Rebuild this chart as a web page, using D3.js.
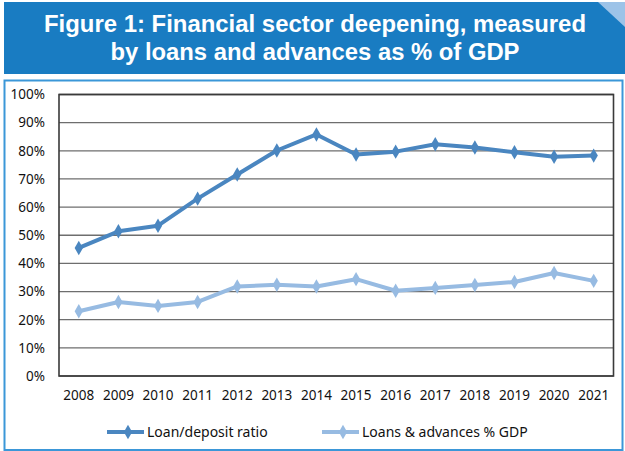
<!DOCTYPE html>
<html>
<head>
<meta charset="utf-8">
<script src="https://cdn.jsdelivr.net/npm/d3@7"></script>
<style>
  html, body { margin: 0; padding: 0; background: #ffffff; }
  svg { display: block; }
</style>
</head>
<body>
<svg id="chart" width="625" height="451"></svg>
<script>
// Chart data
const years = ["2008","2009","2010","2011","2012","2013","2014","2015","2016","2017","2018","2019","2020","2021"];
const loanDepositRatio = [45.5, 51.4, 53.4, 63.0, 71.6, 80.1, 85.8, 78.7, 79.7, 82.3, 81.2, 79.5, 77.9, 78.3];
const loansAdvancesGdp = [23.0, 26.3, 24.9, 26.3, 31.8, 32.4, 31.8, 34.4, 30.3, 31.3, 32.3, 33.4, 36.6, 33.8];
const yTicks = [0, 10, 20, 30, 40, 50, 60, 70, 80, 90, 100];
const seriesNames = ["Loan/deposit ratio", "Loans & advances % GDP"];
const titleLines = ["Figure 1: Financial sector deepening, measured", "by loans and advances as % of GDP"];

const colors = ["#4a86c0", "#97bbe2"];
const svg = d3.select("#chart");
const W = 625, H = 451;

// Title banner
svg.append("rect").attr("x", 4).attr("y", 2).attr("width", W - 4).attr("height", 72).attr("fill", "#197cc2");
svg.append("path").attr("d", "M598,2 L625,2 L625,27 Z").attr("fill", "#9cc3e8");
const titleWidths = [542, 409];
titleLines.forEach((t, i) => {
  svg.append("text")
    .attr("x", 315).attr("y", 32 + i * 28)
    .attr("text-anchor", "middle")
    .attr("font-family", "'Liberation Sans', Arial, sans-serif")
    .attr("font-weight", "bold")
    .attr("font-size", 23)
    .attr("fill", "#ffffff")
    .attr("textLength", titleWidths[i])
    .attr("lengthAdjust", "spacingAndGlyphs")
    .text(t);
});

// Chart frame
svg.append("rect").attr("x", 4.5).attr("y", 80.5).attr("width", 618).attr("height", 369.5)
  .attr("fill", "#ffffff").attr("stroke", "#3b97d8").attr("stroke-width", 2);

const plot = { left: 59, right: 613.5, top: 94.5, bottom: 376 };
const x = d3.scaleBand().domain(years).range([plot.left, plot.right]);
const y = d3.scaleLinear().domain([0, 100]).range([plot.bottom, plot.top]);
const font = "'Noto Sans', 'Open Sans', sans-serif";

// Gridlines
svg.append("g").selectAll("line").data(yTicks).join("line")
  .attr("x1", plot.left).attr("x2", plot.right)
  .attr("y1", d => y(d)).attr("y2", d => y(d))
  .attr("stroke", "#6e6e6e").attr("stroke-width", 1.3);

// Plot border
svg.append("rect").attr("x", plot.left).attr("y", plot.top)
  .attr("width", plot.right - plot.left).attr("height", plot.bottom - plot.top)
  .attr("fill", "none").attr("stroke", "#3a3a3a").attr("stroke-width", 1.6);

// Y axis
const yAxis = d3.axisLeft(y).tickValues(yTicks).tickSize(0).tickPadding(14).tickFormat(d => d + "%");
const gy = svg.append("g").attr("transform", `translate(${plot.left},0)`).call(yAxis);
gy.select(".domain").remove();
gy.selectAll("text").attr("font-family", font).attr("font-size", 13.5).attr("fill", "#111");

// X axis
const xAxis = d3.axisBottom(x).tickSize(0).tickPadding(14);
const gx = svg.append("g").attr("transform", `translate(0,${plot.bottom})`).call(xAxis);
gx.select(".domain").remove();
gx.selectAll("text").attr("font-family", font).attr("font-size", 13.5).attr("fill", "#111");

// Series
const series = [loanDepositRatio, loansAdvancesGdp];
const line = d3.line().x((d, i) => x(years[i]) + x.bandwidth() / 2).y(d => y(d));
const diamond = d3.symbol().type(d3.symbolDiamond).size(60);

series.slice().reverse().forEach((vals, ri) => {
  const si = series.length - 1 - ri;
  const g = svg.append("g");
  g.append("path").datum(vals).attr("d", line)
    .attr("fill", "none").attr("stroke", colors[si]).attr("stroke-width", 4)
    .attr("stroke-linejoin", "round");
  g.selectAll("path.m").data(vals).join("path").attr("class", "m")
    .attr("d", diamond)
    .attr("transform", (d, i) => `translate(${x(years[i]) + x.bandwidth() / 2},${y(d)})`)
    .attr("fill", colors[si]);
});

// Legend
const legendX = [107, 322];
seriesNames.forEach((name, i) => {
  const g = svg.append("g").attr("transform", `translate(${legendX[i]},432)`);
  g.append("line").attr("x1", 0).attr("x2", 37).attr("y1", 0).attr("y2", 0)
    .attr("stroke", colors[i]).attr("stroke-width", 4);
  g.append("path").attr("d", diamond).attr("transform", "translate(21,0)").attr("fill", colors[i]);
  g.append("text").attr("x", 40).attr("y", 0).attr("dy", "0.35em")
    .attr("font-family", font).attr("font-size", 14).attr("fill", "#111").text(name);
});
</script>
</body>
</html>
